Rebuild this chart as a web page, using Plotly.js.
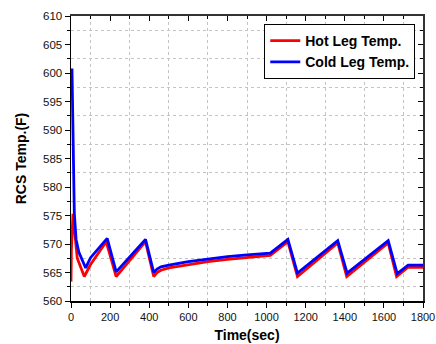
<!DOCTYPE html>
<html>
<head>
<meta charset="utf-8">
<script src="https://cdn.plot.ly/plotly-3.0.1.min.js"></script>
<style>html,body{margin:0;padding:0;background:#fff;}#chart{width:436px;height:344px;}</style>
</head>
<body>
<div id="chart"></div>
<script>
// Hot leg temperature (red)
const hotTime = [0, 2, 10, 20, 32, 68, 100, 180, 231, 381, 423, 440, 460, 500, 600, 700, 800, 900, 1019, 1109, 1158, 1364, 1410, 1622, 1665, 1722, 1800];
const hotTemp = [563.4, 569.0, 575.3, 572.0, 567.5, 564.3, 566.4, 570.4, 564.3, 570.4, 564.3, 565.0, 565.4, 565.8, 566.4, 566.9, 567.3, 567.6, 568.0, 570.4, 564.3, 570.2, 564.3, 570.2, 564.3, 565.9, 565.9];
// Cold leg temperature (blue)
const coldTime = [0, 2, 5, 17, 26, 40, 75, 100, 185, 231, 381, 423, 440, 460, 500, 600, 700, 800, 900, 1019, 1109, 1158, 1364, 1412, 1622, 1668, 1724, 1800];
const coldTemp = [596.8, 600.8, 600.8, 575.4, 570.8, 568.6, 565.8, 567.6, 571.0, 565.1, 570.8, 565.0, 565.6, 566.0, 566.3, 566.9, 567.4, 567.8, 568.1, 568.4, 570.8, 564.9, 570.6, 564.9, 570.6, 564.8, 566.3, 566.3];

const seriesNames = ['Hot Leg Temp.', 'Cold Leg Temp.'];
const xTitle = 'Time(sec)';
const yTitle = 'RCS Temp.(F)';

const font = 'Arial, "Liberation Sans", sans-serif';

const traces = [
  {x: hotTime, y: hotTemp, name: seriesNames[0], mode: 'lines', line: {color: '#ff0000', width: 2.8}},
  {x: coldTime, y: coldTemp, name: seriesNames[1], mode: 'lines', line: {color: '#0000ff', width: 2.8}}
];

const gridMinor = (t0, dt, len) => ({tick0: t0, dtick: dt, showgrid: true, gridcolor: '#c4c4c4', griddash: 'dot', gridwidth: 1, ticks: 'outside', ticklen: len, tickcolor: '#000', tickwidth: 1});

const layout = {
  width: 436, height: 344,
  margin: {l: 71, r: 13, t: 16, b: 43},
  paper_bgcolor: '#fff', plot_bgcolor: '#fff',
  showlegend: true,
  font: {family: font, color: '#000'},
  xaxis: {
    range: [0, 1800], dtick: 200, tick0: 0, showgrid: false, zeroline: false,
    ticks: 'outside', ticklen: 5, tickwidth: 1, tickcolor: '#000',
    showline: true, linecolor: '#000', linewidth: 1.5,
    tickfont: {size: 11, color: '#111'}, ticklabeloverflow: 'allow',
    minor: gridMinor(100, 200, 3),
    title: {text: '<b>' + xTitle + '</b>', font: {size: 14}, standoff: 8}
  },
  yaxis: {
    range: [560, 610], dtick: 5, tick0: 560, showgrid: false, zeroline: false,
    ticks: 'outside', ticklen: 5, tickwidth: 1, tickcolor: '#000',
    showline: true, linecolor: '#000', linewidth: 1.5,
    tickfont: {size: 11.5, color: '#111'}, ticklabeloverflow: 'allow',
    minor: gridMinor(562.5, 5, 3),
    title: {text: '<b>' + yTitle + '</b>', font: {size: 14}, standoff: 13}
  },
  xaxis2: {
    overlaying: 'x', side: 'top', range: [0, 1800], dtick: 200, tick0: 0,
    showgrid: false, zeroline: false, showticklabels: false,
    ticks: 'inside', ticklen: 5, tickcolor: '#000', showline: true, linecolor: '#333', linewidth: 2,
    minor: {dtick: 100, ticks: 'inside', ticklen: 3, tickcolor: '#000', showgrid: false}
  },
  yaxis2: {
    overlaying: 'y', side: 'right', range: [560, 610], dtick: 5, tick0: 560,
    showgrid: false, zeroline: false, showticklabels: false,
    ticks: 'inside', ticklen: 5, tickcolor: '#000', showline: true, linecolor: '#333', linewidth: 1.5,
    minor: {dtick: 2.5, ticks: 'inside', ticklen: 3, tickcolor: '#000', showgrid: false}
  },
  legend: {
    x: 0.978, y: 0.972, xanchor: 'right', yanchor: 'top',
    bgcolor: '#fff', bordercolor: '#000', borderwidth: 1,
    font: {size: 14, family: font, weight: 'bold'},
    tracegroupgap: 0
  }
};

traces.push({x: [null], y: [null], xaxis: 'x2', yaxis: 'y2', showlegend: false, hoverinfo: 'skip', mode: 'lines'});

Plotly.newPlot('chart', traces, layout, {displayModeBar: false, staticPlot: true});
</script>
</body>
</html>
